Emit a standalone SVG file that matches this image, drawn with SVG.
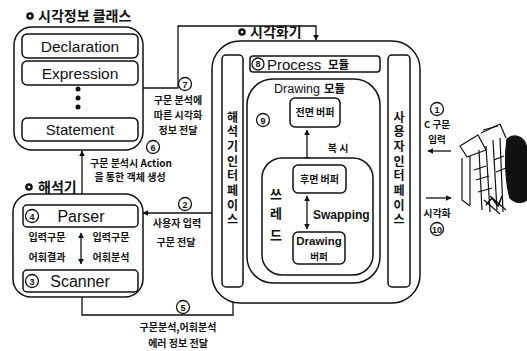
<svg xmlns="http://www.w3.org/2000/svg" width="527" height="351" viewBox="0 0 527 351">
  <defs>
    <marker id="ah" viewBox="0 0 10 10" refX="9" refY="5" markerWidth="6" markerHeight="6" orient="auto-start-reverse" markerUnits="userSpaceOnUse">
      <path d="M0,0 L10,5 L0,10 z" fill="#111"/>
    </marker>
    <style>
      .box { fill: #fff; stroke: #111; stroke-width: 1.5; }
      .ln { fill: none; stroke: #111; stroke-width: 1.3; }
      .en { font-family: "Liberation Sans", Arial, sans-serif; fill: #111; }
      .ko { font-family: "Noto Sans CJK KR", "Noto Sans", sans-serif; font-weight: bold; fill: #111; }
      .sm { font-size: 10px; }
      .vt { font-size: 12px; writing-mode: vertical-rl; text-orientation: upright; letter-spacing: 2.7px; }
      .num { fill: #fff; stroke: #111; stroke-width: 1.3; }
      .numt { font-family: "Liberation Sans", Arial, sans-serif; font-weight: bold; font-size: 9px; text-anchor: middle; fill: #111; }
      .mid { text-anchor: middle; }
    </style>
  </defs>
  <rect width="527" height="351" fill="#fff"/>

  <!-- connectors -->
  <g id="connectors">
    <!-- 7: class box to visualiser -->
    <path class="ln" d="M143,88 H178 V26 H316 V40" marker-end="url(#ah)"/>
    <!-- 6: parser to class box -->
    <path class="ln" d="M82,194 V151" marker-end="url(#ah)"/>
    <!-- 2: interface to parser -->
    <path class="ln" d="M222,213 H143" marker-end="url(#ah)"/>
    <!-- 5: interpreter to interface -->
    <path class="ln" d="M82,297 V315 H233 V288" marker-end="url(#ah)"/>
    <!-- 1 / 10: user side -->
    <path class="ln" d="M451,151 H428" marker-end="url(#ah)"/>
    <path class="ln" d="M426,198 H451" marker-end="url(#ah)"/>
  </g>

  <!-- connector labels -->
  <g id="label7">
    <circle class="num" cx="185" cy="84" r="6.5"/><text class="numt" x="185" y="87.5">7</text>
    <text class="ko sm mid" x="178" y="104">구문 분석에</text>
    <text class="ko sm mid" x="178" y="119">따른 시각화</text>
    <text class="ko sm mid" x="178" y="134">정보 전달</text>
  </g>
  <g id="label6">
    <circle class="num" cx="153" cy="147" r="6.5"/><text class="numt" x="153" y="150.5">6</text>
    <text class="ko sm mid" x="131" y="167">구문 분석시 Action</text>
    <text class="ko sm mid" x="130" y="181">을 통한 객체 생성</text>
  </g>
  <g id="label2">
    <circle class="num" cx="185" cy="204" r="6.5"/><text class="numt" x="185" y="207.5">2</text>
    <text class="ko sm mid" x="177" y="227">사용자 입력</text>
    <text class="ko sm mid" x="176" y="246">구문 전달</text>
  </g>
  <g id="label5">
    <circle class="num" cx="183" cy="307" r="6.5"/><text class="numt" x="183" y="310.5">5</text>
    <text class="ko sm mid" x="178" y="331">구문분석,어휘분석</text>
    <text class="ko sm mid" x="178" y="347">에러 정보 전달</text>
  </g>
  <g id="label1">
    <circle class="num" cx="437" cy="109" r="6.5"/><text class="numt" x="437" y="112.5">1</text>
    <text class="ko mid" x="437" y="128" font-size="9.5">C 구문</text>
    <text class="ko mid" x="437" y="143" font-size="9.5">입력</text>
  </g>
  <g id="label10">
    <text class="ko sm mid" x="437" y="217">시각화</text>
    <circle class="num" cx="437" cy="229" r="6.5"/><text class="numt" x="437" y="232.5">10</text>
  </g>

  <!-- visual information classes -->
  <g id="classes">
    <circle cx="30" cy="16" r="3.8" fill="#111"/><circle cx="30" cy="16" r="1.3" fill="#fff"/>
    <text class="ko" x="38" y="21" font-size="14">시각정보 클래스</text>
    <rect class="box" x="14" y="27" width="129" height="123" rx="18"/>
    <rect class="box" x="22" y="34" width="116" height="24" rx="5"/>
    <text class="en mid" x="80" y="52" font-size="15.5">Declaration</text>
    <rect class="box" x="22" y="61" width="116" height="24" rx="5"/>
    <text class="en mid" x="80" y="79" font-size="15.5">Expression</text>
    <circle cx="78" cy="89" r="2.5" fill="#111"/>
    <circle cx="78" cy="98" r="2.5" fill="#111"/>
    <circle cx="78" cy="107" r="2.5" fill="#111"/>
    <rect class="box" x="22" y="118" width="116" height="23" rx="5"/>
    <text class="en mid" x="80" y="135" font-size="15">Statement</text>
  </g>

  <!-- interpreter -->
  <g id="interpreter">
    <circle cx="29" cy="187" r="3.8" fill="#111"/><circle cx="29" cy="187" r="1.3" fill="#fff"/>
    <text class="ko" x="38" y="192" font-size="14">해석기</text>
    <rect class="box" x="13" y="194" width="130" height="103" rx="18"/>
    <g id="parser">
      <rect class="box" x="23" y="205" width="115" height="22" rx="4"/>
      <circle class="num" cx="32" cy="216" r="6.5"/><text class="numt" x="32" y="219.5">4</text>
      <text class="en mid" x="81" y="222" font-size="16">Parser</text>
    </g>
    <g id="scanner">
      <rect class="box" x="23" y="270" width="115" height="22" rx="4"/>
      <circle class="num" cx="32" cy="281" r="6.5"/><text class="numt" x="32" y="284.5">3</text>
      <text class="en mid" x="80" y="287" font-size="16">Scanner</text>
    </g>
    <path class="ln" d="M81,233 V264" marker-start="url(#ah)" marker-end="url(#ah)"/>
    <text class="ko sm mid" x="47" y="241">입력구문</text>
    <text class="ko sm mid" x="47" y="261">어휘결과</text>
    <text class="ko sm mid" x="111" y="241">입력구문</text>
    <text class="ko sm mid" x="111" y="261">어휘분석</text>
  </g>

  <!-- visualiser -->
  <g id="visualiser">
    <circle cx="242" cy="32" r="3.8" fill="#111"/><circle cx="242" cy="32" r="1.3" fill="#fff"/>
    <text class="ko" x="250" y="37" font-size="14">시각화기</text>
    <rect class="box" x="212" y="41" width="208" height="262" rx="28"/>

    <g id="parser-interface">
      <rect class="box" x="222" y="55" width="21" height="232" rx="4"/>
      <text class="ko vt" x="232.5" y="111">해석기인터페이스</text>
    </g>
    <g id="user-interface">
      <rect class="box" x="388" y="55" width="22" height="232" rx="4"/>
      <text class="ko vt" x="399" y="111">사용자인터페이스</text>
    </g>
    <g id="process-module">
      <rect class="box" x="250" y="56" width="130" height="16" rx="3"/>
      <circle class="num" cx="258" cy="64" r="6"/><text class="numt" x="258" y="67.3">8</text>
      <text class="en" x="267" y="69.5" font-size="15">Process</text>
      <text class="ko" x="328" y="69" font-size="11.5">모듈</text>
    </g>
    <g id="drawing-module">
      <rect class="box" x="247" y="79" width="133" height="204" rx="26"/>
      <text class="en" x="274" y="93" font-size="12.5">Drawing</text>
      <text class="ko" x="324" y="93" font-size="11.5">모듈</text>
      <circle class="num" cx="263" cy="120" r="6.5"/><text class="numt" x="263" y="123.5">9</text>
    </g>
    <g id="front-buffer">
      <rect class="box" x="290" y="98" width="50" height="29" rx="5"/>
      <text class="ko sm mid" x="315" y="116">전면 버퍼</text>
    </g>
    <path class="ln" d="M307,130 V162" marker-start="url(#ah)" marker-end="url(#ah)"/>
    <text class="ko sm mid" x="338" y="152">복 시</text>
    <g id="thread">
      <rect class="box" x="262" y="158" width="111" height="117" rx="20"/>
      <text class="ko" x="276" y="199" font-size="13" text-anchor="middle">쓰</text>
      <text class="ko" x="276" y="218" font-size="13" text-anchor="middle">레</text>
      <text class="ko" x="276" y="240" font-size="13" text-anchor="middle">드</text>
    </g>
    <g id="back-buffer">
      <rect class="box" x="293" y="165" width="53" height="28" rx="5"/>
      <text class="ko sm mid" x="319.5" y="183">후면 버퍼</text>
    </g>
    <path class="ln" d="M307,196 V229" marker-start="url(#ah)" marker-end="url(#ah)"/>
    <text class="en" x="313" y="219" font-size="12" font-weight="bold">Swapping</text>
    <g id="drawing-buffer">
      <rect class="box" x="293" y="232" width="52" height="32" rx="5"/>
      <text class="en mid" x="319" y="245" font-size="11.5" font-weight="bold">Drawing</text>
      <text class="ko mid" x="319" y="260" font-size="9.5">버퍼</text>
    </g>
  </g>

  <!-- user at a computer -->
  <g id="user" fill="none" stroke="#111" stroke-width="1.2" stroke-linejoin="round">
    <path d="M507,139 C516,132 526,138 527,150 L527,200 C522,204 515,203 510,198 C506,185 504,160 507,139 z" fill="#111"/>
    <path d="M460,146 L478,135 L486,150 L467,157 z" fill="#fff"/>
    <path d="M481,133 L500,124 L506,138"/>
    <path d="M483,130 L498,126"/>
    <path d="M462,158 V200 L470,206"/>
    <path d="M470,156 V205"/>
    <path d="M479,150 L482,210"/>
    <path d="M486,146 L490,212"/>
    <path d="M493,140 L497,210"/>
    <path d="M500,138 L503,212"/>
    <path d="M474,170 L486,166 M476,180 L489,176 M478,192 L492,188"/>
    <path d="M484,200 L500,214 M490,196 L506,210"/>
    <path d="M494,160 L504,156 M496,172 L506,168"/>
    <path d="M486,205 L492,198 L498,206 L502,196" stroke-width="1.6"/>
  </g>
</svg>
